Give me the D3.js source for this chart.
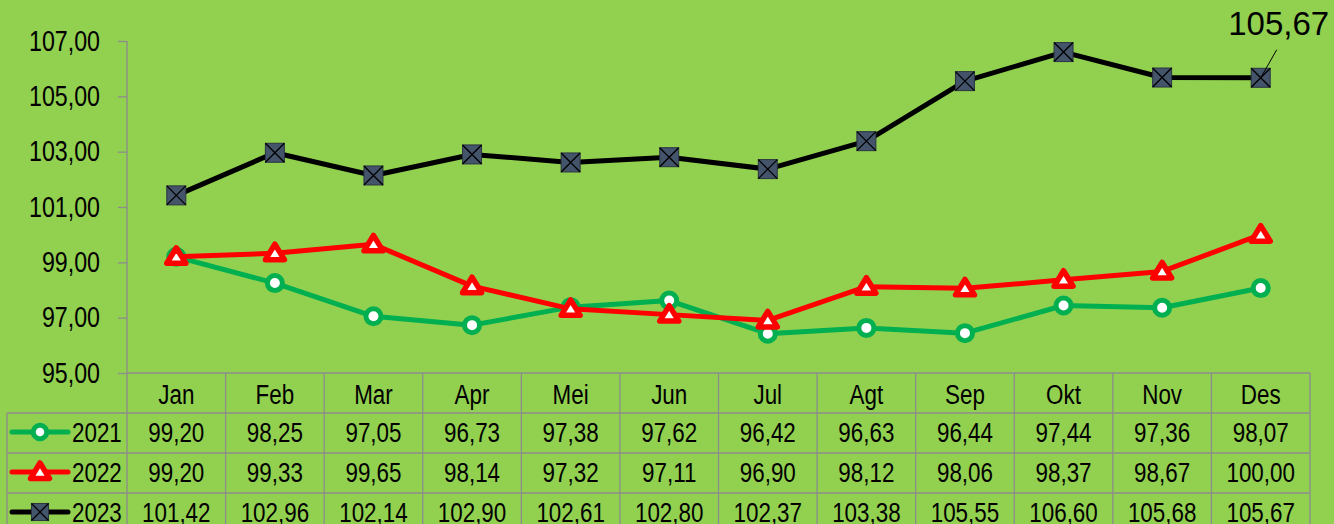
<!DOCTYPE html>
<html>
<head>
<meta charset="utf-8">
<script src="https://cdn.jsdelivr.net/npm/d3@7"></script>
<style>
  body { margin: 0; background: #92D050; }
  svg { display: block; }
  text { font-family: "Liberation Sans", Arial, sans-serif; fill: #000; }
</style>
</head>
<body>
<script>
var months = ["Jan", "Feb", "Mar", "Apr", "Mei", "Jun", "Jul", "Agt", "Sep", "Okt", "Nov", "Des"];
var years = ["2021", "2022", "2023"];
var v2021 = [99.20, 98.25, 97.05, 96.73, 97.38, 97.62, 96.42, 96.63, 96.44, 97.44, 97.36, 98.07];
var v2022 = [99.20, 99.33, 99.65, 98.14, 97.32, 97.11, 96.90, 98.12, 98.06, 98.37, 98.67, 100.00];
var v2023 = [101.42, 102.96, 102.14, 102.90, 102.61, 102.80, 102.37, 103.38, 105.55, 106.60, 105.68, 105.67];
var yTicks = [95, 97, 99, 101, 103, 105, 107];

var width = 1334,
    height = 524;

var plotLeft = 127, plotRight = 1310,
    plotTop = 41, plotBottom = 373,
    rowH = 40;

var narrow = 0.8; // squeeze regular face to look like Arial Narrow

var locale = d3.formatLocale({decimal: ",", thousands: ".", grouping: [3], currency: ["", ""]});
var fmt = locale.format(".2f");

var series = [
    {name: years[0], values: v2021, color: "#00B050", marker: "circle"},
    {name: years[1], values: v2022, color: "#FF0000", marker: "triangle"},
    {name: years[2], values: v2023, color: "#000000", marker: "square"}
];

var x = d3.scaleBand().domain(months).range([plotLeft, plotRight]);
var y = d3.scaleLinear().domain([95, 107]).range([plotBottom, plotTop]);
var cx = function(m) { return x(m) + x.bandwidth() / 2; };

var svg = d3.select("body").append("svg")
    .attr("width", width)
    .attr("height", height);

svg.append("rect").attr("width", width).attr("height", height).attr("fill", "#92D050");

// narrow text placed at (px, py), centre-aligned vertically
function ntext(px, py, str, size, anchor) {
    return svg.append("text")
        .attr("transform", "translate(" + px + "," + py + ") scale(" + narrow + ",1)")
        .attr("dy", "0.35em")
        .attr("text-anchor", anchor || "middle")
        .attr("font-size", size)
        .text(str);
}

// y axis
var yAxis = svg.append("g")
    .attr("transform", "translate(" + plotLeft + ",0)")
    .call(d3.axisLeft(y).tickValues(yTicks).tickFormat(fmt).tickSize(9).tickSizeOuter(0).tickPadding(18));
yAxis.select(".domain").remove();
yAxis.selectAll(".tick line").attr("stroke", "#8c8c8c").attr("stroke-width", 1.3);
yAxis.selectAll(".tick text")
    .attr("font-size", 29)
    .attr("font-family", "'Liberation Sans', Arial, sans-serif")
    .attr("x", -27 / narrow)
    .attr("transform", "scale(" + narrow + ",1)");

// table grid
var grid = svg.append("g").attr("stroke", "#8c8c8c").attr("stroke-width", 1.3).attr("fill", "none");
grid.append("line").attr("x1", plotLeft).attr("x2", plotLeft).attr("y1", plotTop).attr("y2", height);
grid.append("line").attr("x1", plotLeft).attr("x2", plotRight).attr("y1", plotBottom).attr("y2", plotBottom);
months.forEach(function(m) {
    grid.append("line").attr("x1", x(m) + x.bandwidth()).attr("x2", x(m) + x.bandwidth())
        .attr("y1", plotBottom).attr("y2", height);
});
grid.append("line").attr("x1", 7).attr("x2", 7).attr("y1", plotBottom + rowH).attr("y2", height);
[1, 2, 3].forEach(function(i) {
    grid.append("line").attr("x1", 7).attr("x2", plotRight)
        .attr("y1", plotBottom + rowH * i).attr("y2", plotBottom + rowH * i);
});

// month header
months.forEach(function(m) {
    ntext(cx(m), plotBottom + rowH / 2 + 1, m, 28);
});

function drawMarker(g, type, color, s) {
    s = s || 1;
    if (type === "circle") {
        g.append("circle").attr("r", 7.5 * s).attr("fill", "#fff").attr("stroke", color).attr("stroke-width", 5);
    } else if (type === "triangle") {
        g.append("path").attr("d", "M0,-9L9.5,6.5L-9.5,6.5Z")
            .attr("fill", "#fff").attr("stroke", color).attr("stroke-width", 5.5).attr("stroke-linejoin", "round");
    } else {
        var h = 9.5 * s;
        g.append("rect").attr("x", -h).attr("y", -h).attr("width", 2 * h).attr("height", 2 * h)
            .attr("fill", "#44546A").attr("stroke", "#2b3442").attr("stroke-width", 1);
        g.append("path").attr("d", "M" + (-h) + "," + (-h) + "L" + h + "," + h + "M" + h + "," + (-h) + "L" + (-h) + "," + h)
            .attr("stroke", "#000").attr("stroke-width", 1.3);
    }
}

var line = d3.line()
    .x(function(d, i) { return cx(months[i]); })
    .y(function(d) { return y(d); });

series.forEach(function(s, si) {
    svg.append("path")
        .datum(s.values)
        .attr("d", line)
        .attr("fill", "none")
        .attr("stroke", s.color)
        .attr("stroke-width", 5)
        .attr("stroke-linejoin", "round");

    s.values.forEach(function(v, i) {
        var g = svg.append("g").attr("transform", "translate(" + cx(months[i]) + "," + y(v) + ")");
        drawMarker(g, s.marker, s.color);
    });

    // table row
    var rowY = plotBottom + rowH * (si + 1) + rowH / 2 - 1;
    svg.append("line").attr("x1", 12).attr("x2", 68).attr("y1", rowY).attr("y2", rowY)
        .attr("stroke", s.color).attr("stroke-width", 5).attr("stroke-linecap", "round");
    drawMarker(svg.append("g").attr("transform", "translate(40," + rowY + ")"), s.marker, s.color, 0.9);
    ntext(72, rowY, s.name, 28, "start");

    s.values.forEach(function(v, i) {
        ntext(cx(months[i]), rowY, fmt(v), 28);
    });
});

// data label on last point
var last = v2023[v2023.length - 1];
var lx = cx(months[11]), ly = y(last);
svg.append("line").attr("x1", lx).attr("y1", ly).attr("x2", lx + 16).attr("y2", ly - 28)
    .attr("stroke", "#000").attr("stroke-width", 1);
svg.append("text")
    .attr("x", lx + 18).attr("y", ly - 43)
    .attr("text-anchor", "middle")
    .attr("font-size", 33)
    .text(fmt(last));
</script>
</body>
</html>
